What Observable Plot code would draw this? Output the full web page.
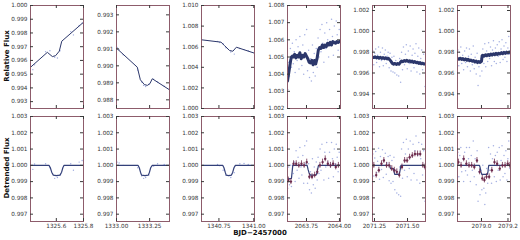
<!DOCTYPE html>
<html><head><meta charset="utf-8">
<script src="https://cdn.jsdelivr.net/npm/d3@7"></script>
<script src="https://cdn.jsdelivr.net/npm/@observablehq/plot@0.6"></script>
<style>
body{margin:0;background:#fff;}
#fig{position:relative;width:520px;height:240px;overflow:hidden;font-family:"DejaVu Sans";}
#fig svg{position:absolute;}
.lab{position:absolute;font:bold 7px "DejaVu Sans";color:#111;white-space:nowrap;transform:translate(-50%,-50%);}
.rot{transform:translate(-50%,-50%) rotate(-90deg);}
</style></head><body><div id="fig"></div>
<script>
// ---------- column 1 ----------
const T1x = [1325.427,1325.44,1325.521,1325.553,1325.588,1325.608,1325.627,1325.706,1325.726,1325.768,1325.79];
const T1y = [0.99533,0.99568,0.99664,0.99671,0.99623,0.99618,0.99671,0.9981,0.99786,0.99854,0.99872];
const B1y = [0.99975,1.00008,1.0001,0.99985,0.9992,0.99925,0.9994,1.0001,0.9997,1.0002,1.0003];
const M1tx = [1325.41,1325.534,1325.571,1325.595,1325.622,1325.64,1325.80];
const M1ty = [0.9955,0.99659,0.99628,0.99635,0.99668,0.9974,0.99878];
const M1bx = [1325.41,1325.546,1325.556,1325.566,1325.578,1325.60,1325.627,1325.639,1325.648,1325.657,1325.80];
const M1by = [1,1,0.99985,0.99958,0.9994,0.99937,0.9994,0.99958,0.99985,1,1];
// ---------- column 2 ----------
const T2x = [1333.005,1333.02,1333.05,1333.16,1333.19,1333.205,1333.22,1333.245,1333.28,1333.31,1333.36];
const T2y = [0.99108,0.99095,0.99065,0.98975,0.98905,0.98885,0.98878,0.98892,0.98922,0.98905,0.9888];
const B2y = [1.0002,1.00015,1.0,0.99985,0.99935,0.9992,0.99925,0.9994,0.99995,1.0001,1.00005];
const M2tx = [1333.0,1333.157,1333.18,1333.21,1333.233,1333.252,1333.27,1333.40];
const M2ty = [0.99104,0.98992,0.98918,0.9889,0.98885,0.98895,0.98924,0.98859];
const M2bx = [1333.0,1333.162,1333.172,1333.181,1333.189,1333.215,1333.24,1333.249,1333.258,1333.27,1333.40];
const M2by = [1,1,0.99985,0.99958,0.9994,0.99937,0.9994,0.99958,0.99985,1,1];
// ---------- column 3 ----------
const T3x = [1340.74,1340.755,1340.78,1340.80,1340.835,1340.86,1340.90,1340.93,1340.96];
const T3y = [1.00652,1.0064,1.00628,1.0059,1.00548,1.00528,1.00582,1.00572,1.0056];
const B3y = [1.00005,0.99998,0.9997,0.9994,0.99925,0.99955,1.0001,1.00012,1.00005];
const M3tx = [1340.625,1340.765,1340.789,1340.826,1340.85,1340.875,1341.005];
const M3ty = [1.00667,1.00644,1.00612,1.00563,1.00556,1.00595,1.00537];
const M3bx = [1340.625,1340.777,1340.786,1340.795,1340.802,1340.82,1340.84,1340.849,1340.858,1340.868,1341.005];
const M3by = [1,1,0.99985,0.99958,0.9994,0.99937,0.9994,0.99958,0.99985,1,1];
// ---------- column 4 ----------
const T4x = [2063.608,2063.615,2063.621,2063.628,2063.636,2063.643,2063.650,2063.657,2063.664,2063.671,2063.679,2063.686,2063.693,2063.700,2063.708,2063.715,2063.722,2063.729,2063.737,2063.744,2063.751,2063.758,2063.766,2063.773,2063.780,2063.787,2063.795,2063.802,2063.809,2063.816,2063.824,2063.831,2063.838,2063.845,2063.853,2063.860,2063.867,2063.874,2063.882,2063.889,2063.896,2063.903,2063.911,2063.918,2063.925,2063.932,2063.940,2063.947,2063.954,2063.961,2063.969,2063.976,2063.983,2063.990,2063.998];
const T4y = [1.0031,1.0047,1.0039,1.0055,1.0044,1.0058,1.0046,1.0053,1.0041,1.0060,1.0048,1.0056,1.0043,1.0062,1.0050,1.0045,1.0057,1.0040,1.0063,1.0052,1.0066,1.0042,1.0054,1.0038,1.0049,1.0036,1.0057,1.0041,1.0052,1.0039,1.0055,1.0044,1.0061,1.0050,1.0066,1.0053,1.0069,1.0058,1.0047,1.0064,1.0055,1.0070,1.0060,1.0050,1.0066,1.0057,1.0072,1.0062,1.0051,1.0068,1.0059,1.0071,1.0063,1.0054,1.0066];
const B4y = [0.9986,0.9999,0.9988,1.0000,0.9987,1.0000,0.9995,1.0002,0.9990,1.0009,0.9997,1.0005,0.9992,1.0011,0.9999,0.9994,1.0006,0.9989,1.0012,1.0001,1.0015,0.9989,1.0001,0.9985,0.9996,0.9983,1.0004,0.9988,0.9999,0.9986,1.0002,0.9991,1.0005,0.9995,1.0010,0.9997,1.0013,1.0002,0.9991,1.0008,0.9999,1.0014,1.0002,0.9992,1.0008,0.9999,1.0014,1.0004,0.9993,1.0010,1.0001,1.0013,1.0005,0.9996,1.0008];
const M4tx = [2063.606,2063.612,2063.618,2063.624,2063.630,2063.636,2063.642,2063.65,2063.66,2063.67,2063.68,2063.69,2063.70,2063.71,2063.72,2063.73,2063.74,2063.75,2063.76,2063.77,2063.78,2063.79,2063.80,2063.81,2063.82,2063.83,2063.84,2063.85,2063.86,2063.87,2063.88,2063.89,2063.90,2063.91,2063.92,2063.93,2063.94,2063.95,2063.96,2063.97,2063.98,2063.99,2064.00];
const M4ty = [1.0036,1.0039,1.0042,1.0045,1.0048,1.0050,1.00505,1.0050,1.00515,1.00495,1.0051,1.0050,1.00525,1.0049,1.0051,1.0050,1.0052,1.00505,1.0049,1.0047,1.00465,1.0048,1.00455,1.0048,1.0046,1.0049,1.0054,1.00555,1.0055,1.0057,1.00555,1.0057,1.0056,1.0058,1.0057,1.00585,1.0057,1.0059,1.00585,1.0058,1.0059,1.00585,1.0059];
const M4bx = [2063.606,2063.636,2063.641,2063.646,2063.755,2063.762,2063.770,2063.78,2063.823,2063.831,2063.837,2063.841,2064.008];
const M4by = [0.99915,0.9992,0.9996,1,1,0.99975,0.99952,0.9994,0.9994,0.99958,0.99985,1,1];
const K4x = [2063.612,2063.632,2063.652,2063.672,2063.692,2063.712,2063.732,2063.752,2063.772,2063.792,2063.812,2063.832,2063.852,2063.872,2063.892,2063.912,2063.932,2063.952,2063.972,2063.992];
const K4y = [0.9991,0.9990,1.0001,1.0001,1.0000,1.0001,1.0000,1.0002,0.9993,0.9993,0.9994,0.9996,1.0000,1.0002,1.0004,1.0001,1.0000,1.0001,0.9999,1.0000];
// ---------- column 5 ----------
const T5x = [2071.238,2071.245,2071.252,2071.259,2071.266,2071.274,2071.281,2071.288,2071.295,2071.303,2071.310,2071.317,2071.324,2071.332,2071.339,2071.346,2071.353,2071.361,2071.368,2071.375,2071.382,2071.390,2071.397,2071.404,2071.411,2071.419,2071.426,2071.433,2071.440,2071.448,2071.455,2071.462,2071.469,2071.477,2071.484,2071.491,2071.498,2071.506,2071.513,2071.520,2071.527,2071.535,2071.542,2071.549,2071.556,2071.564,2071.571,2071.578,2071.585,2071.593,2071.600,2071.607,2071.614,2071.622,2071.632];
const T5y = [0.9981,0.9968,0.9979,0.9983,0.9970,0.9977,0.9985,0.9966,0.9980,0.9972,0.9984,0.9967,0.9978,0.9982,0.9969,0.9976,0.9980,0.9965,0.9979,0.9962,0.9975,0.9961,0.9976,0.9960,0.9972,0.9958,0.9970,0.9957,0.9974,0.9951,0.9980,0.9963,0.9985,0.9968,0.9978,0.9987,0.9964,0.9981,0.9969,0.9986,0.9962,0.9977,0.9983,0.9965,0.9979,0.9988,0.9961,0.9976,0.9984,0.9959,0.9974,0.9982,0.9963,0.9978,0.9947];
const B5y = [1.0007,0.99935,1.00045,1.00085,0.99955,1.00025,1.00105,0.99915,1.00055,0.99975,1.00095,0.99925,1.00035,1.00075,0.99945,1.00015,1.00055,0.99905,1.0006,0.9989,1.0003,0.9990,1.0005,0.9985,0.9997,0.9983,0.9995,0.9982,0.9999,0.9981,1.0010,0.9992,1.0014,0.9997,1.0007,1.0016,0.9993,1.0010,0.9998,1.0015,0.9991,1.0006,1.0013,0.9995,1.0009,1.0018,0.9991,1.0006,1.0014,0.9989,1.0004,1.0013,0.9994,1.0009,0.9978];
const M5tx = [2071.236,2071.245,2071.255,2071.265,2071.275,2071.285,2071.295,2071.305,2071.315,2071.325,2071.335,2071.345,2071.355,2071.365,2071.375,2071.385,2071.395,2071.405,2071.415,2071.425,2071.435,2071.445,2071.455,2071.465,2071.475,2071.485,2071.495,2071.505,2071.515,2071.525,2071.535,2071.545,2071.555,2071.565,2071.575,2071.585,2071.595,2071.605,2071.615,2071.625,2071.635];
const M5ty = [0.99752,0.99748,0.99755,0.99745,0.99752,0.99742,0.9975,0.9974,0.99748,0.99738,0.99745,0.99735,0.99742,0.99728,0.99712,0.99692,0.99685,0.99692,0.99682,0.9969,0.99684,0.997,0.99715,0.99708,0.9972,0.99712,0.99722,0.9971,0.99718,0.99706,0.99714,0.99702,0.9971,0.99698,0.99704,0.99692,0.997,0.99688,0.99694,0.99685,0.9969];
const M5bx = [2071.235,2071.366,2071.371,2071.394,2071.398,2071.404,2071.438,2071.444,2071.450,2071.636];
const M5by = [1,1,0.9998,0.9998,0.9996,0.99944,0.99944,0.9997,1,1];
const K5x = [2071.245,2071.263,2071.283,2071.303,2071.321,2071.341,2071.361,2071.381,2071.400,2071.419,2071.438,2071.458,2071.478,2071.497,2071.516,2071.536,2071.556,2071.576,2071.596,2071.616,2071.632];
const K5y = [1.0000,0.9994,0.9997,1.0001,1.0003,1.0000,1.0000,0.9998,0.9997,0.9996,0.9994,0.9999,1.0003,1.0003,1.0005,1.0006,1.0007,1.0007,1.0007,1.0000,0.9999];
// ---------- column 6 ----------
const T6x = [2078.822,2078.829,2078.836,2078.844,2078.851,2078.858,2078.865,2078.873,2078.880,2078.887,2078.894,2078.902,2078.909,2078.916,2078.923,2078.931,2078.938,2078.945,2078.952,2078.960,2078.967,2078.974,2078.981,2078.989,2078.996,2079.003,2079.010,2079.018,2079.025,2079.032,2079.039,2079.047,2079.054,2079.061,2079.068,2079.076,2079.083,2079.090,2079.097,2079.105,2079.112,2079.119,2079.126,2079.134,2079.141,2079.148,2079.155,2079.163,2079.170,2079.177,2079.184,2079.192,2079.199,2079.206,2079.214];
const T6y = [0.9982,0.9967,0.9980,0.9985,0.9969,0.9977,0.9963,0.9981,0.9970,0.9984,0.9966,0.9976,0.9983,0.9962,0.9978,0.9968,0.9986,0.9964,0.9975,0.9959,0.9979,0.9948,0.9966,0.9957,0.9974,0.9962,0.9983,0.9969,0.9988,0.9966,0.9981,0.9971,0.9989,0.9974,0.9985,0.9967,0.9982,0.9991,0.9971,0.9984,0.9969,0.9987,0.9976,0.9990,0.9970,0.9983,0.9992,0.9973,0.9986,0.9975,0.9989,0.9971,0.9984,0.9995,0.9978];
const B6y = [1.0008,0.9993,1.0006,1.0011,0.9996,1.0004,0.9990,1.0008,0.99967,1.0011,0.9994,1.0004,1.0011,0.9990,1.0006,0.9997,1.0015,0.9993,1.0004,0.9988,1.0009,0.9978,0.9996,0.9982,0.9997,0.9985,1.0000,0.9986,0.9976,0.9983,0.9998,0.9989,1.0011,0.9997,1.0007,0.9989,1.0004,1.0012,0.9993,1.0006,0.9990,1.0008,0.9997,1.0011,0.9991,1.0003,1.0012,0.9993,1.0006,0.9995,1.0009,0.9991,1.0004,1.0015,0.9998];
const M6tx = [2078.82,2078.83,2078.84,2078.85,2078.86,2078.87,2078.88,2078.89,2078.90,2078.91,2078.92,2078.93,2078.94,2078.95,2078.96,2078.97,2078.98,2078.99,2079.00,2079.005,2079.01,2079.02,2079.03,2079.04,2079.05,2079.06,2079.07,2079.08,2079.09,2079.10,2079.11,2079.12,2079.13,2079.14,2079.15,2079.16,2079.17,2079.18,2079.19,2079.20,2079.21,2079.22];
const M6ty = [0.9974,0.99732,0.99742,0.9973,0.99738,0.99726,0.99735,0.99722,0.99732,0.99718,0.99725,0.99712,0.9972,0.99706,0.99714,0.997,0.9971,0.99702,0.99712,0.99765,0.9977,0.99762,0.99775,0.99765,0.99778,0.99768,0.99782,0.99772,0.99785,0.99775,0.99788,0.99778,0.9979,0.99782,0.99795,0.99785,0.99798,0.99788,0.998,0.99792,0.99802,0.99796];
const M6bx = [2078.819,2078.985,2078.99,2078.996,2079.003,2079.043,2079.049,2079.052,2079.055,2079.22];
const M6by = [1,1,0.99985,0.9996,0.99944,0.99944,0.9996,0.99985,1,1];
const K6x = [2078.826,2078.846,2078.866,2078.886,2078.906,2078.926,2078.946,2078.966,2078.986,2079.006,2079.022,2079.038,2079.058,2079.078,2079.098,2079.118,2079.138,2079.158,2079.178,2079.198,2079.214];
const K6y = [1.0002,1.0000,1.0004,1.0001,1.0000,1.0000,0.9999,1.0003,0.9996,0.9992,0.9991,0.9993,0.9993,0.9997,1.0002,1.0001,0.9998,1.0000,1.0000,1.0001,1.0000];
const binErr = 0.00018;

// ---------- tick values ----------
const xTicks = [[1325.6,1325.8],[1333.0,1333.25],[1340.75,1341.0],[2063.75,2064.0],[2071.25,2071.5],[2079.0,2079.2]];
const xFormats = [".1f",".2f",".2f",".2f",".2f",".1f"];
const yTicksTop = [
  [0.993,0.994,0.995,0.996,0.997,0.998,0.999,1.000],
  [0.988,0.989,0.990,0.991,0.992,0.993],
  [1.000,1.002,1.004,1.006,1.008,1.010],
  [1.002,1.003,1.004,1.005,1.006,1.007,1.008],
  [0.994,0.996,0.998,1.000,1.002],
  [0.994,0.996,0.998,1.000,1.002]];
const yTicksBottom = [0.997,0.998,0.999,1.000,1.001,1.002,1.003];
const xDomains = [[1325.41,1325.80],[1333.0,1333.40],[1340.625,1341.005],[2063.606,2064.008],[2071.235,2071.636],[2078.819,2079.219]];
const yDomainsTop = [[0.9925,1.000],[0.98749,0.99355],[1.000,1.010],[1.002,1.008],[0.99259,1.00248],[0.99259,1.00248]];
const yDomainBottom = [0.99655,1.003];

const pts = (xs, ys) => xs.map((x, i) => ({x, y: ys[i]}));
const cols = [
  {tx:T1x,ty:T1y,by:B1y,mtx:M1tx,mty:M1ty,mbx:M1bx,mby:M1by},
  {tx:T2x,ty:T2y,by:B2y,mtx:M2tx,mty:M2ty,mbx:M2bx,mby:M2by},
  {tx:T3x,ty:T3y,by:B3y,mtx:M3tx,mty:M3ty,mbx:M3bx,mby:M3by},
  {tx:T4x,ty:T4y,by:B4y,mtx:M4tx,mty:M4ty,mbx:M4bx,mby:M4by,kx:K4x,ky:K4y,dense:true},
  {tx:T5x,ty:T5y,by:B5y,mtx:M5tx,mty:M5ty,mbx:M5bx,mby:M5by,kx:K5x,ky:K5y,dense:true},
  {tx:T6x,ty:T6y,by:B6y,mtx:M6tx,mty:M6ty,mbx:M6bx,mby:M6by,kx:K6x,ky:K6y,dense:true}];

const fig = document.getElementById("fig");
const frameLefts = [30,116,201,287,372,457];
const frameTops = [5,116];
const frameC = "#8d5c6b", tickC = "#3a3a3a", scatC = "#7f8fd6", lineC = "#2c376b", binC = "#6c2a4c";

function panel(ci, row) {
  const c = cols[ci];
  const W = 53, H = row === 0 ? 103 : 105;
  const ML = 32, MR = 14, MT = 6, MB = 14;
  const yt = row === 0 ? yTicksTop[ci] : yTicksBottom;
  const marks = [];
  marks.push(Plot.dot(pts(c.tx, row === 0 ? c.ty : c.by), {x:"x", y:"y", r: c.dense ? 0.75 : 0.7, fill: scatC, fillOpacity: c.dense ? 0.7 : 0.75, clip: true}));
  if (row === 0) {
    marks.push(Plot.line(pts(c.mtx, c.mty), {x:"x", y:"y", stroke: lineC, strokeWidth: c.dense ? 3 : 1, clip: true}));
  } else {
    marks.push(Plot.line(pts(c.mbx, c.mby), {x:"x", y:"y", stroke: "#33407a", strokeWidth: 1.2, clip: true}));
    if (c.kx) {
      const b = pts(c.kx, c.ky);
      marks.push(Plot.ruleX(b, {x:"x", y1: d => d.y - binErr, y2: d => d.y + binErr, stroke: binC, strokeWidth: 0.8}));
      marks.push(Plot.dot(b, {x:"x", y:"y", r: 1.2, fill: binC}));
    }
  }
  marks.push(Plot.frame({stroke: frameC}));
  marks.push(Plot.tickY(yt, {y: d => d, stroke: tickC, insetRight: W - 3}));
  marks.push(Plot.tickY(yt, {y: d => d, stroke: tickC, insetLeft: W - 3}));
  marks.push(Plot.tickX(xTicks[ci], {x: d => d, stroke: tickC, insetTop: H - 3}));
  marks.push(Plot.tickX(xTicks[ci], {x: d => d, stroke: tickC, insetBottom: H - 3}));
  marks.push(Plot.axisY(yt, {anchor: "left", tickSize: 0, tickPadding: 3, tickFormat: d3.format(".3f"), label: null}));
  if (row === 1) marks.push(Plot.axisX(xTicks[ci], {anchor: "bottom", tickSize: 0, tickPadding: 2.5, tickFormat: d3.format(xFormats[ci]), label: null}));
  const svg = Plot.plot({
    width: ML + W + MR, height: MT + H + MB,
    marginLeft: ML, marginRight: MR, marginTop: MT, marginBottom: MB,
    style: {fontFamily: "DejaVu Sans", fontSize: "5.7px", color: "#333", background: "transparent", overflow: "visible"},
    x: {domain: xDomains[ci], axis: null},
    y: {domain: row === 0 ? yDomainsTop[ci] : yDomainBottom, axis: null},
    marks
  });
  svg.style.left = (frameLefts[ci] - ML) + "px";
  svg.style.top = (frameTops[row] - MT) + "px";
  fig.appendChild(svg);
}
for (let r = 0; r < 2; r++) for (let ci = 0; ci < 6; ci++) panel(ci, r);

function label(text, x, y, rot) {
  const d = document.createElement("div");
  d.className = "lab" + (rot ? " rot" : "");
  d.textContent = text;
  d.style.left = x + "px"; d.style.top = y + "px";
  fig.appendChild(d);
}
label("Relative Flux", 7, 56, true);
label("Detrended Flux", 7, 168, true);
label("BJD\u22122457000", 260, 233, false);
</script></body></html>
